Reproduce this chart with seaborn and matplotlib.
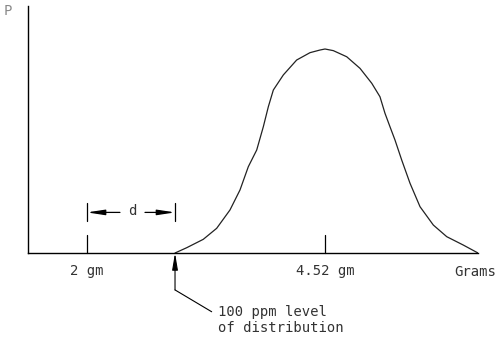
import matplotlib
matplotlib.use("Agg")
import matplotlib.pyplot as plt
import seaborn as sns
import pandas as pd

# ---- data ----
grams = [2.932, 3.056, 3.231, 3.373, 3.514, 3.620, 3.708, 3.797, 3.867, 3.920,
         3.973, 4.079, 4.220, 4.361, 4.467, 4.520, 4.608, 4.750, 4.891, 5.015,
         5.102, 5.155, 5.208, 5.261, 5.332, 5.420, 5.526, 5.667, 5.809, 5.984,
         6.140]
density = [0.0, 0.026, 0.067, 0.121, 0.211, 0.309, 0.423, 0.505, 0.619, 0.717,
           0.799, 0.873, 0.946, 0.982, 0.995, 1.0, 0.992, 0.962, 0.905, 0.832,
           0.766, 0.685, 0.619, 0.554, 0.456, 0.342, 0.227, 0.137, 0.080, 0.039,
           0.0]
tick_pos = [2.0, 4.52]
tick_labels = ["2 gm", "4.52 gm"]
x_title = "Grams"
y_title = "P"
note = ["100 ppm level", "of distribution"]
dim_label = "d"

sns.set_style("white")
plt.rcParams["font.family"] = ["DejaVu Sans Mono", "DejaVu Sans"]

fig = plt.figure(figsize=(5.01, 3.39), dpi=100)
ax = fig.add_axes([28 / 501, 86 / 339, 450 / 501, 247 / 339])

df = pd.DataFrame({"g": grams, "p": density})
sns.lineplot(data=df, x="g", y="p", ax=ax, color="#222222", linewidth=0.9,
             sort=False, estimator=None, solid_joinstyle="round")

ax.set_xlim(1.3753, 6.14)
ax.set_ylim(0, 1.2108)
ax.set_xticks([])
ax.set_yticks([])
ax.set_xlabel("")
ax.set_ylabel("")
for s in ["top", "right"]:
    ax.spines[s].set_visible(False)
for s in ["left", "bottom"]:
    ax.spines[s].set_color("black")
    ax.spines[s].set_linewidth(1.0)

txt_color = "#333333"
fs = 10

# tick marks and labels
for pos, lab in zip(tick_pos, tick_labels):
    ax.plot([pos, pos], [0, 0.088], color="black", lw=0.9, clip_on=False)
    ax.text(pos, -0.088, lab, ha="center", va="center", fontsize=fs,
            color=txt_color, clip_on=False)

ax.text(6.107, -0.091, x_title, ha="center", va="center", fontsize=fs,
        color=txt_color, clip_on=False)
ax.text(1.158, 1.186, y_title, ha="center", va="center", fontsize=fs,
        color="#888888", clip_on=False)

# dimension "d" between 2 gm and start of distribution
d_left = tick_pos[0]
d_right = grams[0]
y_dim = 0.199
for xb in (d_left, d_right):
    ax.plot([xb, xb], [0.157, 0.245], color="black", lw=0.9, clip_on=False)
arrow_kw = dict(arrowstyle="-|>,head_length=1.05,head_width=0.16",
                color="black", lw=0.9, shrinkA=0, shrinkB=0)
ax.annotate("", xy=(d_left, y_dim), xytext=(2.349, y_dim), arrowprops=arrow_kw,
            annotation_clip=False)
ax.annotate("", xy=(d_right, y_dim), xytext=(2.614, y_dim), arrowprops=arrow_kw,
            annotation_clip=False)
ax.text((d_left + d_right) / 2 + 0.01, y_dim + 0.005, dim_label, ha="center",
        va="center", fontsize=fs, color=txt_color, clip_on=False)

# leader to 100 ppm level
ax.annotate("", xy=(d_right, 0.0), xytext=(d_right, -0.181),
            arrowprops=dict(arrowstyle="-|>,head_length=1.0,head_width=0.17",
                            color="black", lw=0.8, shrinkA=0, shrinkB=0),
            annotation_clip=False)
ax.plot([d_right, 3.320], [-0.181, -0.288], color="black", lw=0.8,
        clip_on=False)
ax.text(3.387, -0.289, note[0], ha="left", va="center", fontsize=fs,
        color=txt_color, clip_on=False)
ax.text(3.387, -0.368, note[1], ha="left", va="center", fontsize=fs,
        color=txt_color, clip_on=False)

fig.savefig("out.png", dpi=100)
